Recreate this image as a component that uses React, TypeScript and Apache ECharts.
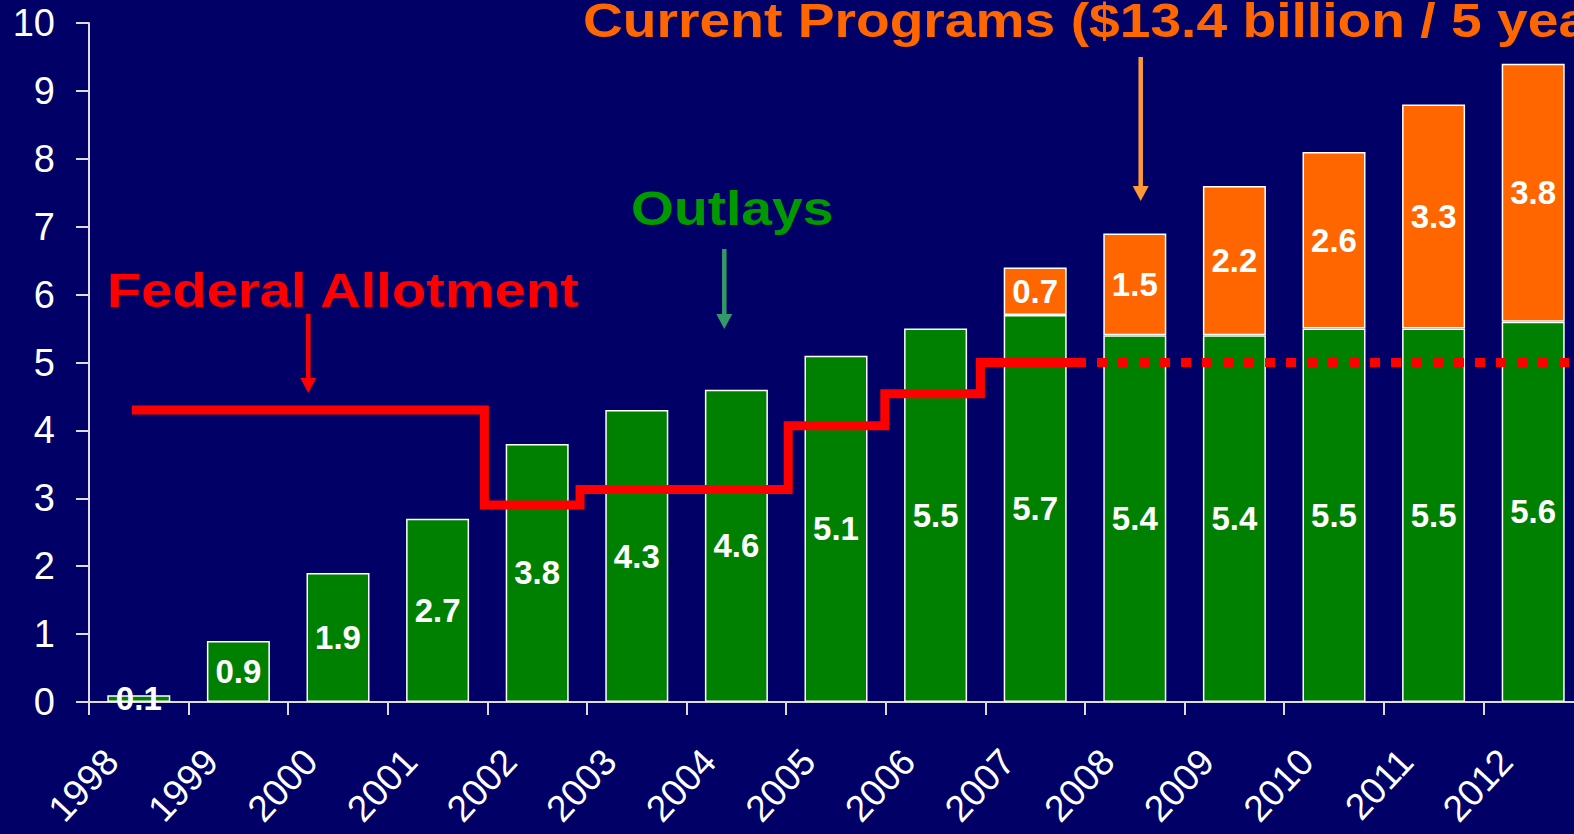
import React, { useEffect, useRef } from "react";
import * as echarts from "echarts";

// ---- data ----
const years = ["1998", "1999", "2000", "2001", "2002", "2003", "2004", "2005", "2006", "2007", "2008", "2009", "2010", "2011", "2012"];
const outlays = [0.1, 0.9, 1.9, 2.7, 3.8, 4.3, 4.6, 5.1, 5.5, 5.7, 5.4, 5.4, 5.5, 5.5, 5.6];
const currentPrograms = [null, null, null, null, null, null, null, null, null, 0.7, 1.5, 2.2, 2.6, 3.3, 3.8];
// Federal allotment: level changes (in fractional years) and levels
const allotmentChangeYears = [1997.93, 2001.47, 2002.43, 2004.52, 2005.49, 2006.45];
const allotmentLevels = [4.3, 2.9, 3.13, 4.07, 4.54, 5.0];
const allotmentEnactedEnd = 2007.41;
const allotmentProjectedEnd = 2012.5;
const yMin = 0;
const yMax = 10;
const yInterval = 1;

const FONT = '"Liberation Sans", Arial, sans-serif';

export default function App() {
  const ref = useRef<HTMLDivElement>(null);

  useEffect(() => {
    if (!ref.current) return;
    const chart = echarts.init(ref.current, null, { renderer: "svg" });

    const enacted: number[][] = allotmentChangeYears.map((x, i) => [x, allotmentLevels[i]]);
    enacted.push([allotmentEnactedEnd, allotmentLevels[allotmentLevels.length - 1]]);
    const lastLevel = allotmentLevels[allotmentLevels.length - 1];
    const projected = [
      [allotmentEnactedEnd, lastLevel],
      [allotmentProjectedEnd, lastLevel],
    ];

    const barLabel = {
      show: true,
      position: "inside",
      color: "#ffffff",
      fontSize: 33,
      fontWeight: "bold",
      fontFamily: FONT,
      formatter: (p: any) => (p.value == null ? "" : Number(p.value).toFixed(1)),
    };

    const axisColor = "#dcdcdc";
    const headText = (text: string, x: number, y: number, color: string, sx: number) => ({
      type: "text",
      x,
      y,
      scaleX: sx,
      scaleY: 1,
      z: 100,
      style: {
        text,
        fill: color,
        font: `bold 48px ${FONT}`,
        align: "left",
        verticalAlign: "middle",
      },
    });
    const arrow = (x: number, y1: number, y2: number, color: string) => [
      {
        type: "line",
        z: 100,
        shape: { x1: x, y1, x2: x, y2: y2 - 13 },
        style: { stroke: color, lineWidth: 4.5 },
      },
      {
        type: "polygon",
        z: 100,
        shape: { points: [[x - 8, y2 - 15], [x + 8, y2 - 15], [x, y2]] },
        style: { fill: color },
      },
    ];

    chart.setOption({
      animation: false,
      backgroundColor: "#000066",
      grid: { left: 89, right: 0, top: 23, bottom: 132, containLabel: false, outerBoundsMode: "none" },
      xAxis: [
        {
          type: "category",
          data: years,
          boundaryGap: true,
          axisLine: { show: true, lineStyle: { color: axisColor, width: 2 } },
          axisTick: { show: true, interval: 0, alignWithLabel: false, length: 13, lineStyle: { color: axisColor, width: 2 } },
          axisLabel: {
            interval: 0,
            rotate: 47,
            margin: 24,
            padding: [0, 40, 0, 0],
            color: "#ffffff",
            fontSize: 37,
            fontFamily: FONT,
          },
          splitLine: { show: false },
        },
        {
          type: "value",
          min: 1997.5,
          max: 2012.5,
          show: false,
          splitLine: { show: false },
        },
      ],
      yAxis: {
        type: "value",
        min: yMin,
        max: yMax,
        interval: yInterval,
        axisLine: { show: true, lineStyle: { color: axisColor, width: 2 } },
        axisTick: { show: true, length: 13, lineStyle: { color: axisColor, width: 2 } },
        axisLabel: { color: "#ffffff", fontSize: 38, fontFamily: FONT, margin: 34 },
        splitLine: { show: false },
      },
      series: [
        {
          name: "Outlays",
          type: "bar",
          stack: "total",
          xAxisIndex: 0,
          barWidth: 63,
          data: outlays,
          itemStyle: { color: "#008000", borderColor: "#ffffff", borderWidth: 1.5 },
          label: barLabel,
          z: 2,
        },
        {
          name: "Current Programs",
          type: "bar",
          stack: "total",
          xAxisIndex: 0,
          barWidth: 63,
          data: currentPrograms,
          itemStyle: { color: "#FF6600", borderColor: "#ffffff", borderWidth: 1.5 },
          label: barLabel,
          z: 2,
        },
        {
          name: "Federal Allotment",
          type: "line",
          xAxisIndex: 1,
          step: "end",
          data: enacted,
          symbol: "none",
          lineStyle: { color: "#FF0000", width: 9, cap: "butt", join: "miter" },
          z: 5,
        },
        {
          name: "Federal Allotment (projected)",
          type: "line",
          xAxisIndex: 1,
          data: projected,
          symbol: "none",
          lineStyle: { color: "#FF0000", width: 9, type: [10, 11], cap: "butt" },
          z: 5,
        },
      ],
      graphic: [
        headText("Current Programs ($13.4 billion / 5 years)", 583, 20, "#FF6600", 1.15),
        headText("Outlays", 631, 208, "#009900", 1.15),
        headText("Federal Allotment", 107, 290, "#FF0000", 1.17),
        ...arrow(1140.7, 57, 201, "#FF9933"),
        ...arrow(724.3, 249, 329, "#339966"),
        ...arrow(308.3, 314, 393, "#FF0000"),
      ],
    });

    return () => chart.dispose();
  }, []);

  return (
    <div
      ref={ref}
      style={{ position: "fixed", left: 0, top: 0, width: 1583, height: 834 }}
    />
  );
}
